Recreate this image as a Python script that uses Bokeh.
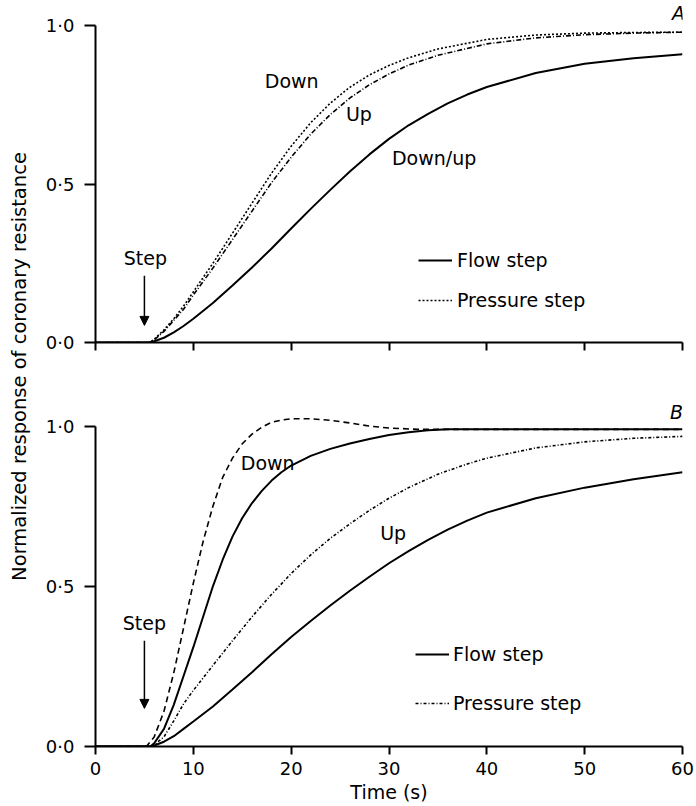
import numpy as np
from bokeh.plotting import figure
from bokeh.models import (Range1d, FixedTicker, CustomJSTickFormatter, Label, Arrow,
                          NormalHead, Legend, LegendItem)
from bokeh.layouts import row, column
from bokeh.embed import file_html
from bokeh.resources import INLINE

FONT = "DejaVu Sans"

# ---------------- data ----------------
x_ticks = [0, 10, 20, 30, 40, 50, 60]
y_ticks = [0.0, 0.5, 1.0]

# Panel A
a_flow_t = [0, 5, 5.5, 6, 7, 8, 9, 10, 12, 14, 16, 18, 20, 22, 24, 26, 28, 30, 32, 34, 36, 38, 40, 45, 50, 55, 60]
a_flow_v = [0, 0, 0, 0.004, 0.015, 0.032, 0.052, 0.075, 0.125, 0.18, 0.237, 0.297, 0.36, 0.422, 0.482,
            0.54, 0.594, 0.643, 0.686, 0.722, 0.755, 0.783, 0.807, 0.851, 0.88, 0.898, 0.91]
a_pdown_t = [0, 5, 5.5, 6, 7, 8, 9, 10, 12, 14, 16, 18, 20, 22, 24, 26, 28, 30, 32, 35, 40, 45, 50, 55, 60]
a_pdown_v = [0, 0, 0, 0.01, 0.04, 0.075, 0.115, 0.16, 0.25, 0.345, 0.44, 0.535, 0.62, 0.694, 0.756,
             0.806, 0.845, 0.875, 0.899, 0.927, 0.957, 0.971, 0.977, 0.979, 0.98]
a_pup_t = [0, 5, 5.5, 6, 7, 8, 9, 10, 12, 14, 16, 18, 20, 22, 24, 26, 28, 30, 32, 35, 40, 45, 50, 55, 60]
a_pup_v = [0, 0, 0, 0.008, 0.035, 0.07, 0.105, 0.15, 0.235, 0.325, 0.415, 0.505, 0.585, 0.658, 0.72,
           0.772, 0.814, 0.848, 0.876, 0.907, 0.943, 0.962, 0.972, 0.977, 0.98]

# Panel B
b_pdown_t = [0, 5, 5.2, 6, 7, 8, 9, 10, 11, 12, 13, 14, 15, 16, 17, 18, 19, 20, 22, 24, 26, 28, 30, 33, 35, 40, 60]
b_pdown_v = [0, 0, 0, 0.03, 0.11, 0.23, 0.37, 0.51, 0.64, 0.75, 0.84, 0.90, 0.945, 0.975, 0.997, 1.012,
             1.019, 1.023, 1.023, 1.018, 1.01, 1.0, 0.994, 0.99, 0.99, 0.99, 0.99]
b_fdown_t = [0, 5, 5.6, 6, 7, 8, 9, 10, 11, 12, 13, 14, 15, 16, 17, 18, 19, 20, 22, 24, 26, 28, 30, 32, 34, 36, 60]
b_fdown_v = [0, 0, 0, 0.01, 0.055, 0.13, 0.22, 0.31, 0.405, 0.50, 0.583, 0.655, 0.713, 0.76, 0.798, 0.83,
             0.856, 0.877, 0.907, 0.929, 0.946, 0.96, 0.972, 0.981, 0.987, 0.99, 0.99]
b_pup_t = [0, 5, 5.6, 6, 7, 8, 9, 10, 12, 14, 16, 18, 20, 22, 24, 26, 28, 30, 32, 35, 38, 40, 45, 50, 55, 60]
b_pup_v = [0, 0, 0, 0.005, 0.03, 0.08, 0.133, 0.175, 0.253, 0.33, 0.405, 0.475, 0.54, 0.598, 0.65, 0.695,
           0.737, 0.775, 0.808, 0.85, 0.882, 0.90, 0.932, 0.951, 0.962, 0.968]
b_fup_t = [0, 5, 5.6, 6, 7, 8, 9, 10, 12, 14, 16, 18, 20, 22, 24, 26, 28, 30, 32, 34, 36, 38, 40, 45, 50, 55, 60]
b_fup_v = [0, 0, 0, 0.003, 0.015, 0.032, 0.055, 0.078, 0.125, 0.178, 0.232, 0.288, 0.342, 0.392, 0.44,
           0.486, 0.53, 0.572, 0.61, 0.645, 0.677, 0.705, 0.73, 0.775, 0.808, 0.834, 0.856]

step_time = 5


def make_panel(width, height, left, right, top, bottom, show_x_labels):
    p = figure(width=width, height=height, x_range=Range1d(0, 60), y_range=Range1d(0, 1.08),
               output_backend="svg", toolbar_location=None,
               min_border_left=left, min_border_right=right,
               min_border_top=top, min_border_bottom=bottom)
    p.grid.visible = False
    p.outline_line_color = None
    p.background_fill_color = "white"
    p.border_fill_color = "white"
    for ax in (p.xaxis[0], p.yaxis[0]):
        ax.axis_line_width = 2
        ax.axis_line_color = "black"
        ax.major_tick_line_width = 2
        ax.major_tick_line_color = "black"
        ax.minor_tick_line_color = None
        ax.major_tick_in = 0
        ax.major_label_text_font = FONT
        ax.major_label_text_font_size = "18px"
        ax.major_label_text_color = "black"
    p.xaxis.ticker = FixedTicker(ticks=x_ticks)
    p.yaxis.ticker = FixedTicker(ticks=y_ticks)
    p.yaxis.bounds = (0, 1.0)
    p.xaxis.major_tick_out = 8
    p.yaxis.major_tick_out = 11
    p.yaxis.major_label_standoff = 10
    p.xaxis.major_label_standoff = 7
    p.yaxis.formatter = CustomJSTickFormatter(code="return tick.toFixed(1).replace('.', '\u00b7');")
    if not show_x_labels:
        p.xaxis.formatter = CustomJSTickFormatter(code="return '';")
    return p


def add_text(p, x, y, text, align="left", style="normal", size="19px"):
    p.add_layout(Label(x=x, y=y, text=text, text_font=FONT, text_font_size=size,
                       text_font_style=style, text_align=align, text_baseline="middle",
                       text_color="black"))


# ---------------- panel A ----------------
pa = make_panel(662, 380, 61, 11, 0, 38, False)
ra_flow = pa.line(a_flow_t, a_flow_v, line_color="black", line_width=2)
ra_pdown = pa.line(a_pdown_t, a_pdown_v, line_color="black", line_width=1.6, line_dash="2 2")
ra_pup = pa.line(a_pup_t, a_pup_v, line_color="black", line_width=1.6, line_dash="5 2 1 2")

add_text(pa, 17.3, 0.826, "Down")
add_text(pa, 25.6, 0.722, "Up")
add_text(pa, 30.3, 0.584, "Down/up")
add_text(pa, 5.1, 0.268, "Step", align="center")
add_text(pa, 59.6, 1.041, "A", align="center", style="italic")
pa.add_layout(Arrow(end=NormalHead(size=9, fill_color="black", line_color="black"),
                    x_start=step_time, y_start=0.211, x_end=step_time, y_end=0.054,
                    line_width=1.5, line_color="black"))
leg_a = Legend(items=[LegendItem(label="Flow step", renderers=[ra_flow]),
                      LegendItem(label="Pressure step", renderers=[ra_pdown])],
               location=(323, 31), glyph_width=34, glyph_height=20, label_height=20,
               label_standoff=5, spacing=18, padding=0, margin=0,
               border_line_color=None, background_fill_alpha=0,
               label_text_font=FONT, label_text_font_size="19px", label_text_color="black")
pa.add_layout(leg_a)

# ---------------- panel B ----------------
pb = make_panel(662, 426, 58, 14, 20, 60, True)
rb_pdown = pb.line(b_pdown_t, b_pdown_v, line_color="black", line_width=1.6, line_dash="6 4")
rb_fdown = pb.line(b_fdown_t, b_fdown_v, line_color="black", line_width=2)
rb_pup = pb.line(b_pup_t, b_pup_v, line_color="black", line_width=1.6, line_dash="3 2 1 2")
rb_fup = pb.line(b_fup_t, b_fup_v, line_color="black", line_width=2)

add_text(pb, 14.85, 0.884, "Down")
add_text(pb, 29.1, 0.666, "Up")
add_text(pb, 5.0, 0.385, "Step", align="center")
add_text(pb, 59.4, 1.044, "B", align="center", style="italic")
pb.add_layout(Arrow(end=NormalHead(size=9, fill_color="black", line_color="black"),
                    x_start=step_time, y_start=0.33, x_end=step_time, y_end=0.119,
                    line_width=1.5, line_color="black"))
leg_b = Legend(items=[LegendItem(label="Flow step", renderers=[rb_fup]),
                      LegendItem(label="Pressure step", renderers=[rb_pup])],
               location=(320, 32), glyph_width=34, glyph_height=20, label_height=20,
               label_standoff=4, spacing=27, padding=0, margin=0,
               border_line_color=None, background_fill_alpha=0,
               label_text_font=FONT, label_text_font_size="19px", label_text_color="black")
pb.add_layout(leg_b)

pb.xaxis.axis_label = "Time (s)"
pb.xaxis.axis_label_text_font = FONT
pb.xaxis.axis_label_text_font_size = "19px"
pb.xaxis.axis_label_text_font_style = "normal"
pb.xaxis.axis_label_text_color = "black"
pb.xaxis.axis_label_standoff = 3

# ---------------- shared y label ----------------
lab = figure(width=34, height=806, x_range=Range1d(0, 34), y_range=Range1d(0, 806),
             output_backend="svg", toolbar_location=None, min_border=0,
             x_axis_location=None, y_axis_location=None)
lab.grid.visible = False
lab.outline_line_color = None
lab.add_layout(Label(x=19, y=806 - 366, text="Normalized response of coronary resistance",
                     angle=np.pi / 2, text_align="center", text_baseline="middle",
                     text_font=FONT, text_font_size="19.5px", text_color="black"))

layout = row(lab, column(pa, pb))

with open("out.html", "w", encoding="utf-8") as f:
    f.write(file_html(layout, INLINE))
